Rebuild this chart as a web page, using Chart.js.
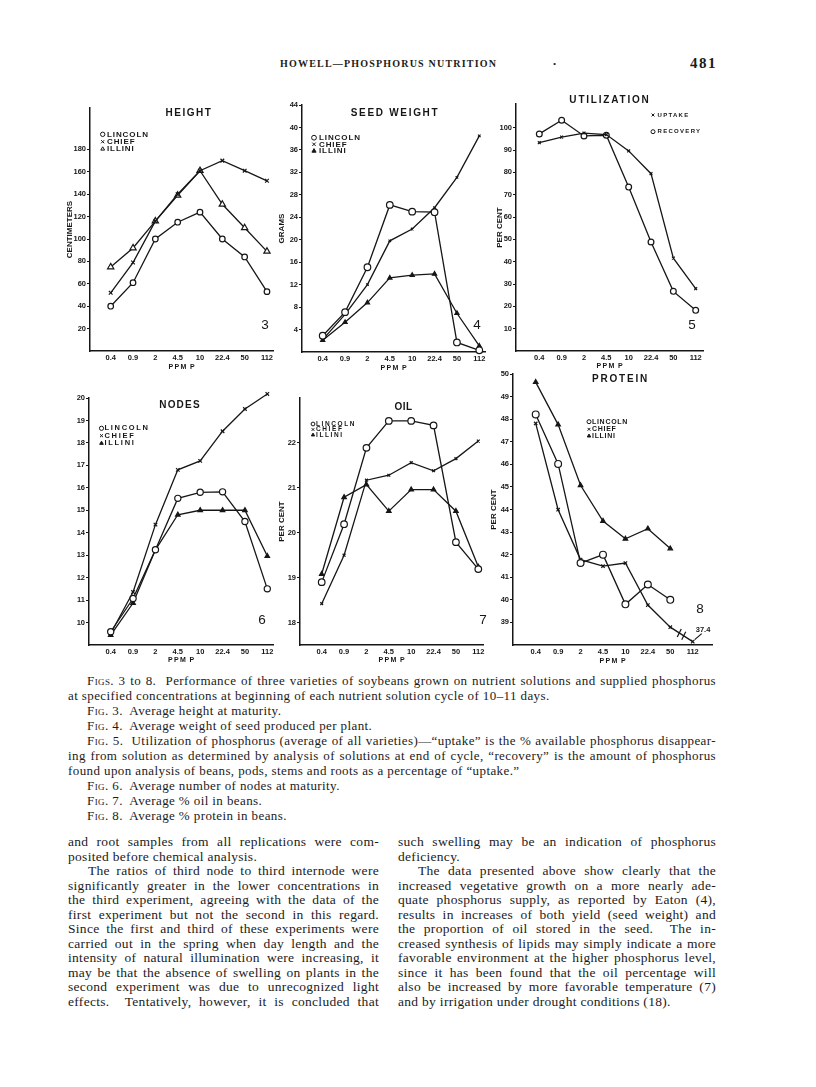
<!DOCTYPE html>
<html>
<head>
<meta charset="utf-8">
<script src="https://cdn.jsdelivr.net/npm/chart.js@4.4.1/dist/chart.umd.min.js"></script>
<style>
  body { margin: 0; width: 816px; height: 1087px; background: #fff; position: relative; overflow: hidden;
         font-family: "Liberation Serif", "Times New Roman", serif; color: #1b1b1b; }
  canvas.fig { position: absolute; }
  .abs { position: absolute; white-space: nowrap; }
  .hdr { font-weight: bold; font-size: 10px; line-height: 12px; letter-spacing: 1.2px; }
  .block { position: absolute; }
  .block div { white-space: nowrap; overflow: visible; }
  .cap div { font-size: 13px; height: 15px; line-height: 15px; letter-spacing: 0.4px; }
  .col div { font-size: 13.5px; height: 14.53px; line-height: 14.53px; letter-spacing: 0.3px; }
  .j { text-align: justify; text-align-last: justify; white-space: normal !important; }
  .i { padding-left: 19px; }
  .col .i { padding-left: 20px; }
  .sc { font-variant: small-caps; }
</style>
</head>
<body>

<div class="abs hdr" style="left:280px;top:58px;">HOWELL—PHOSPHORUS NUTRITION</div>
<div class="abs" style="left:553px;top:58px;font-size:9px;line-height:12px;">•</div>
<div class="abs" style="left:690px;top:54px;font-size:15px;line-height:18px;font-weight:bold;letter-spacing:1.5px;">481</div>

<canvas class="fig" id="fig3"></canvas>
<canvas class="fig" id="fig4"></canvas>
<canvas class="fig" id="fig5"></canvas>
<canvas class="fig" id="fig6"></canvas>
<canvas class="fig" id="fig7"></canvas>
<canvas class="fig" id="fig8"></canvas>

<div class="block cap" style="left:68px;top:673px;width:648px;">
  <div class="j i"><span class="sc">Figs.</span> 3 to 8.&nbsp; Performance of three varieties of soybeans grown on nutrient solutions and supplied phosphorus</div>
  <div>at specified concentrations at beginning of each nutrient solution cycle of 10–11 days.</div>
  <div class="i"><span class="sc">Fig.</span> 3.&nbsp; Average height at maturity.</div>
  <div class="i"><span class="sc">Fig.</span> 4.&nbsp; Average weight of seed produced per plant.</div>
  <div class="j i"><span class="sc">Fig.</span> 5.&nbsp; Utilization of phosphorus (average of all varieties)—“uptake” is the % available phosphorus disappear-</div>
  <div class="j">ing from solution as determined by analysis of solutions at end of cycle, “recovery” is the amount of phosphorus</div>
  <div>found upon analysis of beans, pods, stems and roots as a percentage of “uptake.”</div>
  <div class="i"><span class="sc">Fig.</span> 6.&nbsp; Average number of nodes at maturity.</div>
  <div class="i"><span class="sc">Fig.</span> 7.&nbsp; Average % oil in beans.</div>
  <div class="i"><span class="sc">Fig.</span> 8.&nbsp; Average % protein in beans.</div>
</div>

<div class="block col" style="left:68px;top:835px;width:311px;">
  <div class="j">and root samples from all replications were com-</div>
  <div>posited before chemical analysis.</div>
  <div class="j i">The ratios of third node to third internode were</div>
  <div class="j">significantly greater in the lower concentrations in</div>
  <div class="j">the third experiment, agreeing with the data of the</div>
  <div class="j">first experiment but not the second in this regard.</div>
  <div class="j">Since the first and third of these experiments were</div>
  <div class="j">carried out in the spring when day length and the</div>
  <div class="j">intensity of natural illumination were increasing, it</div>
  <div class="j">may be that the absence of swelling on plants in the</div>
  <div class="j">second experiment was due to unrecognized light</div>
  <div class="j">effects.&nbsp; Tentatively, however, it is concluded that</div>
</div>

<div class="block col" style="left:398px;top:835px;width:318px;">
  <div class="j">such swelling may be an indication of phosphorus</div>
  <div>deficiency.</div>
  <div class="j i">The data presented above show clearly that the</div>
  <div class="j">increased vegetative growth on a more nearly ade-</div>
  <div class="j">quate phosphorus supply, as reported by Eaton (4),</div>
  <div class="j">results in increases of both yield (seed weight) and</div>
  <div class="j">the proportion of oil stored in the seed.&nbsp; The in-</div>
  <div class="j">creased synthesis of lipids may simply indicate a more</div>
  <div class="j">favorable environment at the higher phosphorus level,</div>
  <div class="j">since it has been found that the oil percentage will</div>
  <div class="j">also be increased by more favorable temperature (7)</div>
  <div>and by irrigation under drought conditions (18).</div>
</div>

<script>
// P levels (ppm) on every x axis
const X_LABELS = ['0.4', '0.9', '2', '4.5', '10', '22.4', '50', '112'];
const VARIETIES = ['LINCOLN', 'CHIEF', 'ILLINI'];

// Fig 3 - height, cm
const HEIGHT_LINCOLN = [40, 61, 100, 115, 124, 100, 84, 53];
const HEIGHT_CHIEF = [52, 79, 116, 140, 161, 170, 161, 152];
const HEIGHT_ILLINI = [75, 92, 116, 139, 161, 131, 110, 89];
const HEIGHT_TICKS = [20, 40, 60, 80, 100, 120, 140, 160, 180];

// Fig 4 - seed weight, grams
const SEED_LINCOLN = [2.9, 7.1, 15.1, 26.2, 25.0, 24.9, 1.7, 0.3];
const SEED_CHIEF = [2.2, 6.7, 12.0, 19.8, 21.9, 25.7, 31.1, 38.5];
const SEED_ILLINI = [2.1, 5.3, 8.8, 13.2, 13.7, 13.9, 6.9, 1.1];
const SEED_TICKS = [4, 8, 12, 16, 20, 24, 28, 32, 36, 40, 44];

// Fig 5 - utilization, per cent
const UPTAKE = [93.3, 95.8, 97.6, 96.9, 89.6, 79.4, 41.6, 27.9];
const RECOVERY = [97.2, 103.3, 96.3, 96.6, 73.4, 48.8, 26.7, 18.2];
const UTIL_TICKS = [10, 20, 30, 40, 50, 60, 70, 80, 90, 100];

// Fig 6 - nodes
const NODES_LINCOLN = [9.59, 11.07, 13.24, 15.53, 15.8, 15.82, 14.5, 11.5];
const NODES_CHIEF = [9.51, 11.36, 14.36, 16.8, 17.2, 18.52, 19.51, 20.18];
const NODES_ILLINI = [9.44, 10.87, 13.24, 14.8, 15.0, 15.0, 15.0, 12.96];
const NODES_TICKS = [10, 11, 12, 13, 14, 15, 16, 17, 18, 19, 20];

// Fig 7 - oil, per cent
const OIL_LINCOLN = [18.9, 20.19, 21.89, 22.49, 22.49, 22.39, 19.79, 19.19];
const OIL_CHIEF = [18.42, 19.5, 21.17, 21.28, 21.56, 21.38, 21.65, 22.04];
const OIL_ILLINI = [19.08, 20.79, 21.07, 20.48, 20.96, 20.96, 20.48, 19.24];
const OIL_TICKS = [18, 19, 20, 21, 22];

// Fig 8 - protein, per cent (chief at 112 ppm is off the scale: 37.4)
const PROTEIN_LINCOLN = [48.21, 46.02, 41.63, 42.0, 39.8, 40.68, 40.0, null];
const PROTEIN_CHIEF = [47.81, 43.99, 41.78, 41.49, 41.63, 39.77, 38.79, 37.4];
const PROTEIN_ILLINI = [49.64, 47.76, 45.07, 43.49, 42.7, 43.15, 42.27, null];
const PROTEIN_TICKS = [39, 40, 41, 42, 43, 44, 45, 46, 47, 48, 49, 50];
const PROTEIN_BREAK_AT = 38.15;   // where the broken axis puts values below the scale

const INK = '#161616';
const SANS = '"Liberation Sans", Arial, sans-serif';
const PAD_TOP = 16, PAD_RIGHT = 14;

// justified lines must stay on one line: tighten any that would wrap
document.querySelectorAll('.j').forEach(el => {
    const lh = parseFloat(getComputedStyle(el).lineHeight);
    let ls = parseFloat(getComputedStyle(el).letterSpacing) || 0;
    el.style.height = 'auto';
    while (el.offsetHeight > lh * 1.5 && ls > -0.6) {
        ls -= 0.05;
        el.style.letterSpacing = ls + 'px';
    }
    el.style.height = '';
});

// marker styles
const circle = r => ({ pointStyle: 'circle', pointRadius: r, pointBackgroundColor: '#fff' });
const cross = r => ({ pointStyle: 'crossRot', pointRadius: r, pointBackgroundColor: INK });
const triOpen = r => ({ pointStyle: 'triangle', pointRadius: r, pointBackgroundColor: '#fff' });
const triFill = r => ({ pointStyle: 'triangle', pointRadius: r, pointBackgroundColor: INK });

function series(label, values, marker) {
    return Object.assign({
        label: label,
        data: values.map((v, i) => ({ x: i, y: v })).filter(p => p.y !== null),
        borderColor: INK,
        borderWidth: 1.3,
        pointBorderColor: INK,
        pointBorderWidth: 1.2,
        tension: 0,
        clip: false
    }, marker);
}

// titles, legends and figure numbers sit inside the plot, so draw them here
const sheetText = {
    id: 'sheetText',
    afterDatasetsDraw(chart, args, o) {
        if (!o || !o.origin) return;
        const ctx = chart.ctx;
        const ox = o.origin[0], oy = o.origin[1];
        ctx.save();
        ctx.textBaseline = 'middle';
        (o.texts || []).forEach(t => {
            ctx.fillStyle = INK;
            ctx.font = `${t.weight || 'bold'} ${t.size}px ${SANS}`;
            ctx.letterSpacing = (t.spacing || 0) + 'px';
            ctx.textAlign = t.align || 'left';
            ctx.fillText(t.text, t.x - ox, t.y - oy);
        });
        const lg = o.legend;
        if (lg) {
            lg.rows.forEach(row => {
                const ds = chart.data.datasets[row.ds];
                ctx.strokeStyle = INK;
                ctx.fillStyle = ds.pointBackgroundColor;
                ctx.lineWidth = 1;
                Chart.helpers.drawPoint(ctx, { pointStyle: ds.pointStyle, radius: lg.r, borderWidth: 1, rotation: 0 },
                    lg.mx - ox, row.y - oy);
                ctx.fillStyle = INK;
                ctx.font = `bold ${lg.size}px ${SANS}`;
                ctx.letterSpacing = lg.spacing + 'px';
                ctx.textAlign = 'left';
                ctx.fillText(ds.label, lg.tx - ox, row.y - oy);
            });
        }
        ctx.letterSpacing = '0px';
        if (o.after) o.after(chart, ctx);
        ctx.restore();
    }
};

function makeFigure(def) {
    const b = def.box;
    const canvas = document.getElementById(def.id);
    const cw = (b.R - b.L) + b.W + PAD_RIGHT;
    const ch = (b.B - b.T) + PAD_TOP + b.H;
    const left = b.L - b.W, top = b.T - PAD_TOP;
    canvas.width = cw; canvas.height = ch;
    canvas.style.width = cw + 'px'; canvas.style.height = ch + 'px';
    canvas.style.left = left + 'px'; canvas.style.top = top + 'px';

    const tickFont = { family: SANS, size: 7.5, weight: 'bold' };
    const titleFont = { family: SANS, size: 8, weight: 'bold' };

    return new Chart(canvas, {
        type: 'line',
        data: { datasets: def.datasets },
        plugins: [sheetText],
        options: {
            responsive: false,
            animation: false,
            devicePixelRatio: 1,
            layout: { padding: { top: PAD_TOP, right: PAD_RIGHT, left: 0, bottom: 0 } },
            plugins: {
                legend: { display: false },
                tooltip: { enabled: false },
                sheetText: Object.assign({ origin: [left, top] }, def.text)
            },
            scales: {
                x: {
                    type: 'linear',
                    min: def.x[0], max: def.x[1],
                    afterBuildTicks: s => { s.ticks = X_LABELS.map((_, i) => ({ value: i })); },
                    afterFit: s => { s.height = b.H; },
                    grid: { display: false, drawTicks: false },
                    border: { color: INK, width: 1.5 },
                    ticks: { color: INK, font: tickFont, padding: 2, maxRotation: 0, minRotation: 0,
                             autoSkip: false, callback: v => X_LABELS[v] },
                    title: { display: true, text: 'P\u2009P\u2009M\u2002P', color: INK, padding: 0,
                             font: { family: SANS, size: 7, weight: 'bold' } }
                },
                y: {
                    min: def.y[0], max: def.y[1],
                    afterBuildTicks: s => { s.ticks = def.yTicks.map(v => ({ value: v })); },
                    afterFit: s => { s.width = b.W; },
                    grid: { drawOnChartArea: false, drawTicks: true, tickLength: 3, color: INK, lineWidth: 1 },
                    border: { color: INK, width: 1.5 },
                    ticks: { color: INK, font: tickFont, padding: 1, autoSkip: false },
                    title: { display: !!def.yTitle, text: def.yTitle || '', color: INK, padding: 0, font: titleFont }
                }
            }
        }
    });
}

const FIGURES = [
    {
        id: 'fig3', box: { L: 90, T: 108, R: 273, B: 351, W: 25, H: 20 },
        x: [-0.927, 7.27], y: [0, 217], yTicks: HEIGHT_TICKS, yTitle: 'CENTIMETERS',
        datasets: [
            series(VARIETIES[0], HEIGHT_LINCOLN, circle(2.8)),
            series(VARIETIES[1], HEIGHT_CHIEF, cross(2.6)),
            series(VARIETIES[2], HEIGHT_ILLINI, triOpen(3.6))
        ],
        text: {
            texts: [
                { text: 'HEIGHT', x: 189, y: 113, size: 10, spacing: 1.5, align: 'center' },
                { text: '3', x: 265, y: 325, size: 13.5, weight: 'normal', align: 'center' }
            ],
            legend: { mx: 102.7, tx: 107, r: 2.2, size: 8, spacing: 0.9,
                      rows: [{ ds: 0, y: 134.3 }, { ds: 1, y: 141.7 }, { ds: 2, y: 149 }] }
        }
    },
    {
        id: 'fig4', box: { L: 302, T: 105, R: 485, B: 352, W: 25, H: 20 },
        x: [-0.925, 7.255], y: [0, 44], yTicks: SEED_TICKS, yTitle: 'GRAMS',
        datasets: [
            series(VARIETIES[0], SEED_LINCOLN, circle(3.3)),
            series(VARIETIES[1], SEED_CHIEF, cross(1.8)),
            series(VARIETIES[2], SEED_ILLINI, triFill(2.4))
        ],
        text: {
            texts: [
                { text: 'SEED WEIGHT', x: 395, y: 113, size: 10, spacing: 1.7, align: 'center' },
                { text: '4', x: 477, y: 325.7, size: 13.5, weight: 'normal', align: 'center' }
            ],
            legend: { mx: 314, tx: 319, r: 2.4, size: 8, spacing: 0.9,
                      rows: [{ ds: 0, y: 137.7 }, { ds: 1, y: 144.3 }, { ds: 2, y: 151 }] }
        }
    },
    {
        id: 'fig5', box: { L: 516, T: 104, R: 703, B: 351, W: 21, H: 19 },
        x: [-1.043, 7.327], y: [0, 110.6], yTicks: UTIL_TICKS, yTitle: 'PER CENT',
        datasets: [
            series('UPTAKE', UPTAKE, cross(2.0)),
            series('RECOVERY', RECOVERY, circle(2.9))
        ],
        text: {
            texts: [
                { text: 'UTILIZATION', x: 610, y: 100, size: 10, spacing: 1.8, align: 'center' },
                { text: '5', x: 692, y: 325.7, size: 13.5, weight: 'normal', align: 'center' }
            ],
            legend: { mx: 653, tx: 657.5, r: 2.0, size: 6, spacing: 1.3,
                      rows: [{ ds: 0, y: 115 }, { ds: 1, y: 131.7 }] }
        }
    },
    {
        id: 'fig6', box: { L: 89, T: 398, R: 273, B: 645, W: 25, H: 19 },
        x: [-0.97, 7.255], y: [9, 20], yTicks: NODES_TICKS, yTitle: '',
        datasets: [
            series(VARIETIES[0], NODES_LINCOLN, circle(3.1)),
            series(VARIETIES[1], NODES_CHIEF, cross(2.5)),
            series(VARIETIES[2], NODES_ILLINI, triFill(2.6))
        ],
        text: {
            texts: [
                { text: 'NODES', x: 180, y: 405, size: 10, spacing: 1.2, align: 'center' },
                { text: '6', x: 262, y: 620.7, size: 13.5, weight: 'normal', align: 'center' }
            ],
            legend: { mx: 101.5, tx: 104.5, r: 2.1, size: 7.5, spacing: 1.7,
                      rows: [{ ds: 0, y: 428.3 }, { ds: 1, y: 435.7 }, { ds: 2, y: 443.3 }] }
        }
    },
    {
        id: 'fig7', box: { L: 300, T: 398, R: 483, B: 645, W: 23, H: 19 },
        x: [-0.97, 7.21], y: [17.5, 23], yTicks: OIL_TICKS, yTitle: 'PER CENT',
        datasets: [
            series(VARIETIES[0], OIL_LINCOLN, circle(3.3)),
            series(VARIETIES[1], OIL_CHIEF, cross(2.0)),
            series(VARIETIES[2], OIL_ILLINI, triFill(2.6))
        ],
        text: {
            texts: [
                { text: 'OIL', x: 403.5, y: 407, size: 10, spacing: 0.5, align: 'center' },
                { text: '7', x: 483, y: 620.7, size: 13.5, weight: 'normal', align: 'center' }
            ],
            legend: { mx: 313, tx: 316, r: 1.9, size: 6.5, spacing: 1.6,
                      rows: [{ ds: 0, y: 424 }, { ds: 1, y: 429.5 }, { ds: 2, y: 435 }] }
        }
    },
    {
        id: 'fig8', box: { L: 513, T: 374, R: 712, B: 645, W: 24, H: 20 },
        x: [-1.012, 7.86], y: [38, 50], yTicks: PROTEIN_TICKS, yTitle: 'PER CENT',
        datasets: [
            series(VARIETIES[0], PROTEIN_LINCOLN, circle(3.4)),
            series(VARIETIES[1], PROTEIN_CHIEF.map(v => Math.max(v, PROTEIN_BREAK_AT)), cross(2.4)),
            series(VARIETIES[2], PROTEIN_ILLINI, triFill(2.6))
        ],
        text: {
            texts: [
                { text: 'PROTEIN', x: 620.5, y: 379.5, size: 10, spacing: 1.8, align: 'center' },
                { text: '8', x: 700, y: 609.3, size: 13.5, weight: 'normal', align: 'center' }
            ],
            legend: { mx: 589, tx: 592, r: 2.0, size: 7, spacing: 0.7,
                      rows: [{ ds: 0, y: 421.7 }, { ds: 1, y: 429.3 }, { ds: 2, y: 436 }] },
            after: (chart, ctx) => {
                // broken-axis marks and the off-scale value
                const pts = chart.getDatasetMeta(1).data;
                const a = pts[6], b = pts[7];
                ctx.strokeStyle = INK;
                ctx.lineWidth = 1.2;
                [0.4, 0.6].forEach(f => {
                    const x = a.x + (b.x - a.x) * f, y = a.y + (b.y - a.y) * f;
                    ctx.beginPath(); ctx.moveTo(x - 2, y + 4); ctx.lineTo(x + 2, y - 4); ctx.stroke();
                });
                ctx.beginPath(); ctx.moveTo(b.x + 9, b.y - 8); ctx.lineTo(b.x + 2, b.y - 2); ctx.stroke();
                ctx.fillStyle = INK;
                ctx.font = `bold 7.5px ${SANS}`;
                ctx.textAlign = 'left';
                ctx.textBaseline = 'middle';
                ctx.fillText(PROTEIN_CHIEF[7].toFixed(1), b.x + 3, b.y - 12);
            }
        }
    }
];

FIGURES.forEach(makeFigure);
</script>
</body>
</html>
